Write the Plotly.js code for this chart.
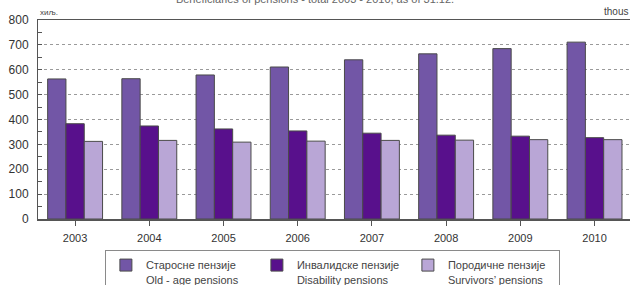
<!DOCTYPE html>
<html>
<head>
<meta charset="utf-8">
<script src="https://cdn.plot.ly/plotly-3.0.1.min.js"></script>
<style>
html,body{margin:0;padding:0;background:#fff;overflow:hidden;}
#wrap{width:630px;height:285px;overflow:hidden;}
#chart{width:630px;height:305px;}
</style>
</head>
<body>
<div id="wrap"><div id="chart"></div></div>
<script>
const years = ['2003','2004','2005','2006','2007','2008','2009','2010'];
const oldAge = [563, 564, 579, 611, 640, 664, 685, 711];
const disability = [383, 374, 362, 354, 345, 337, 333, 327];
const survivors = [312, 316, 309, 313, 316, 317, 319, 319];
const seriesNames = ['Старосне пензије<br>Old - age pensions', 'Инвалидске пензије<br>Disability pensions', 'Породичне пензије<br>Survivors\u2019 pensions'];
const seriesColors = ['#7256A6', '#58108C', '#B9A6D6'];
const yTicks = [0,100,200,300,400,500,600,700,800];

const seriesValues = [oldAge, disability, survivors];
const traces = seriesValues.map((vals, i) => ({
  type: 'bar',
  x: years,
  y: vals,
  name: seriesNames[i],
  marker: {color: seriesColors[i], line: {color: '#4a4a4a', width: 1}},
  hoverinfo: 'x+y'
}));

const layout = {
  width: 630, height: 305,
  margin: {l: 38, r: 0, t: 20, b: 86, pad: 0},
  paper_bgcolor: '#ffffff',
  plot_bgcolor: '#ffffff',
  font: {family: 'Liberation Sans, Arial, sans-serif', color: '#333'},
  title: {
    text: 'Beneficiaries of pensions - total 2003 - 2010, as of 31.12.',
    font: {size: 11, color: '#666'},
    x: 0.5, xanchor: 'center',
    y: 1 - 3/305, yanchor: 'bottom', yref: 'container'
  },
  barmode: 'group',
  bargap: 0.26,
  bargroupgap: 0,
  showlegend: true,
  legend: {
    orientation: 'h',
    x: 0.113, xanchor: 'left',
    y: -0.158, yanchor: 'top',
    bordercolor: '#8a8a8a', borderwidth: 1,
    bgcolor: '#ffffff',
    font: {size: 11, color: '#444'},
    entrywidth: 106, entrywidthmode: 'pixels',
    valign: 'top',
    traceorder: 'normal'
  },
  xaxis: {
    type: 'category',
    range: [-0.5, 7.478],
    showline: true, linecolor: '#555', linewidth: 1.5, mirror: true,
    ticks: 'outside', ticklen: 5, tickcolor: '#555',
    tickfont: {size: 11, color: '#333'},
    ticklabelstandoff: 3,
    showgrid: false, zeroline: false,
    fixedrange: true
  },
  yaxis: {
    range: [0, 800],
    tickvals: yTicks,
    showline: true, linecolor: '#555', linewidth: 1,
    ticks: 'inside', ticklen: 4, tickcolor: '#555',
    minor: {dtick: 50, ticks: 'inside', ticklen: 4, tickcolor: '#555', showgrid: false},
    tickfont: {size: 12, color: '#333'},
    ticklabelstandoff: 6,
    showgrid: true, gridcolor: '#9a9a9a', gridwidth: 1, griddash: '3px,3px',
    zeroline: false,
    fixedrange: true
  },
  annotations: [
    {text: 'хиљ.', xref: 'paper', yref: 'paper', x: 0, y: 1, xanchor: 'left', yanchor: 'bottom', yshift: 1, showarrow: false, font: {size: 8, color: '#444'}},
    {text: 'thous', xref: 'paper', yref: 'paper', x: 1, y: 1, xanchor: 'right', yanchor: 'bottom', yshift: 1, showarrow: false, font: {size: 10, color: '#444'}}
  ]
};

Plotly.newPlot('chart', traces, layout, {displayModeBar: false, staticPlot: true});
</script>
</body>
</html>
